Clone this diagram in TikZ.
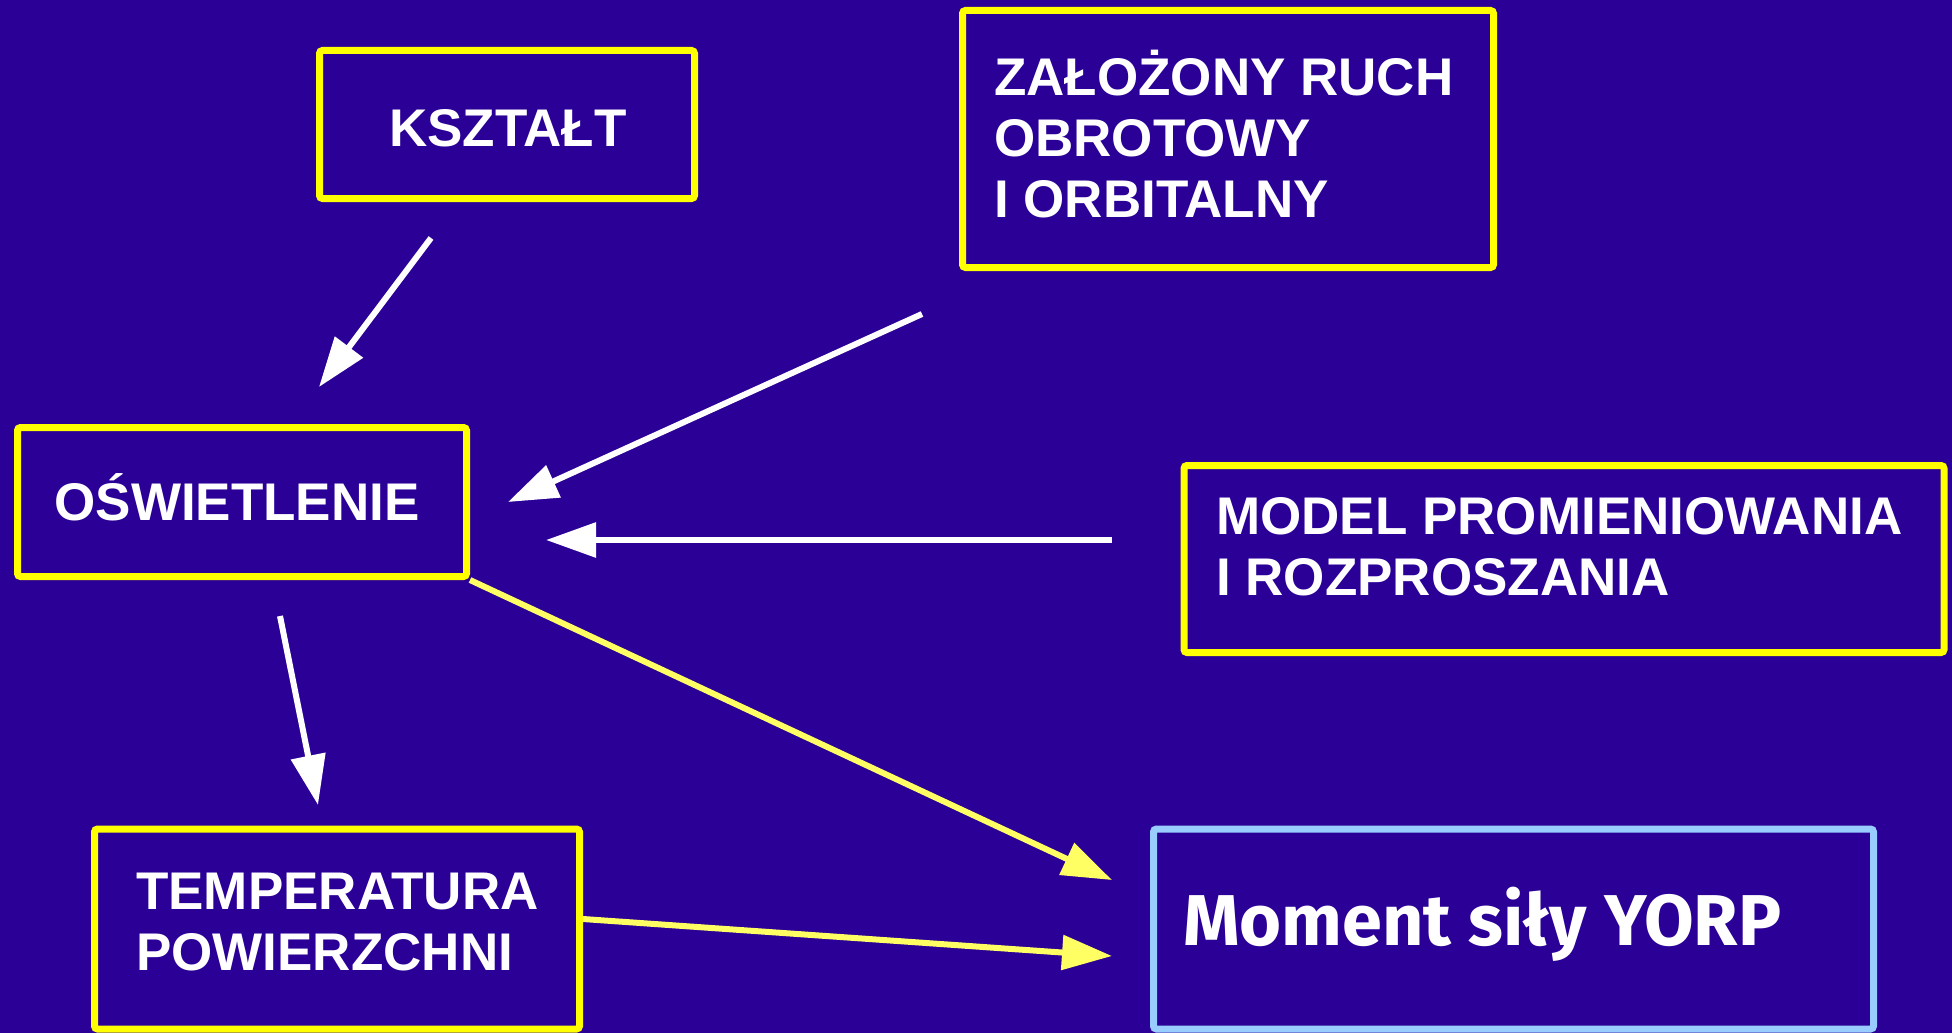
\documentclass[tikz,border=0pt]{standalone}
\usepackage{fontspec}
\setmainfont{Liberation Sans}
\newfontfamily\comicfont{Fira Sans}
\usetikzlibrary{arrows.meta}
\definecolor{bgblue}{RGB}{42,0,150}
\definecolor{boxyellow}{RGB}{255,255,0}
\definecolor{lineyellow}{RGB}{255,255,100}
\definecolor{boxblue}{RGB}{153,204,255}
\begin{document}
\begin{tikzpicture}[x=1pt,y=-1pt,
  box/.style={draw=boxyellow, line width=7pt, rounded corners=3pt, inner sep=0pt},
  lbl/.style={text=white, font=\fontsize{53}{61}\selectfont\bfseries, align=left, inner sep=0pt, anchor=base west},
  warrow/.style={draw=white, line width=6pt, -{Triangle[length=50pt,width=34pt]}},
  yarrow/.style={draw=lineyellow, line width=6pt, -{Triangle[length=50pt,width=34pt]}},
]
\fill[bgblue] (0,0) rectangle (1952,1033);
\useasboundingbox (0,0) rectangle (1952,1033);

% boxes
\node[box, minimum width=375pt, minimum height=148pt] (kszt) at (507,124.5) {};
\node[box, minimum width=531pt, minimum height=257pt] (zal) at (1228,139) {};
\node[box, minimum width=449pt, minimum height=149pt] (osw) at (242,502) {};
\node[box, minimum width=760pt, minimum height=187pt] (model) at (1564,559) {};
\node[box, minimum width=485pt, minimum height=200pt] (temp) at (337,929) {};
\node[box, draw=boxblue, minimum width=720pt, minimum height=200pt] (yorp) at (1513.5,929) {};

% texts (anchor = baseline of the last line)
\node[lbl, anchor=base] (tkszt) at (508,146) {KSZTAŁT};
\node[lbl] (tzal) at (994,217) {ZAŁOŻONY RUCH\\OBROTOWY\\I ORBITALNY};
\node[lbl, anchor=base] (tosw) at (237,520) {OŚWIETLENIE};
\node[lbl] (tmodel) at (1216,595) {MODEL PROMIENIOWANIA\\I ROZPROSZANIA};
\node[lbl] (ttemp) at (136,970) {TEMPERATURA\\POWIERZCHNI};
\node[lbl, font=\fontsize{72}{80}\selectfont\comicfont\bfseries] (tyorp) at (1183,945) {Moment siły YORP};

% connector end points
\coordinate (a1) at (431,238);   \coordinate (b1) at (319,387);
\coordinate (a2) at (922,314);   \coordinate (b2) at (508,502);
\coordinate (a3) at (1112,540);  \coordinate (b3) at (546,540);
\coordinate (a4) at (280,616);   \coordinate (b4) at (318,805);
\coordinate (b5) at (1112,880);
\coordinate (a6) at (583,919);   \coordinate (b6) at (1112,956);

\draw[warrow] (a1) -- (b1);
\draw[warrow] (a2) -- (b2);
\draw[warrow] (a3) -- (b3);
\draw[warrow] (a4) -- (b4);
\draw[yarrow] (osw.south east) -- (b5);
\draw[yarrow] (a6) -- (b6);
\end{tikzpicture}
\end{document}
